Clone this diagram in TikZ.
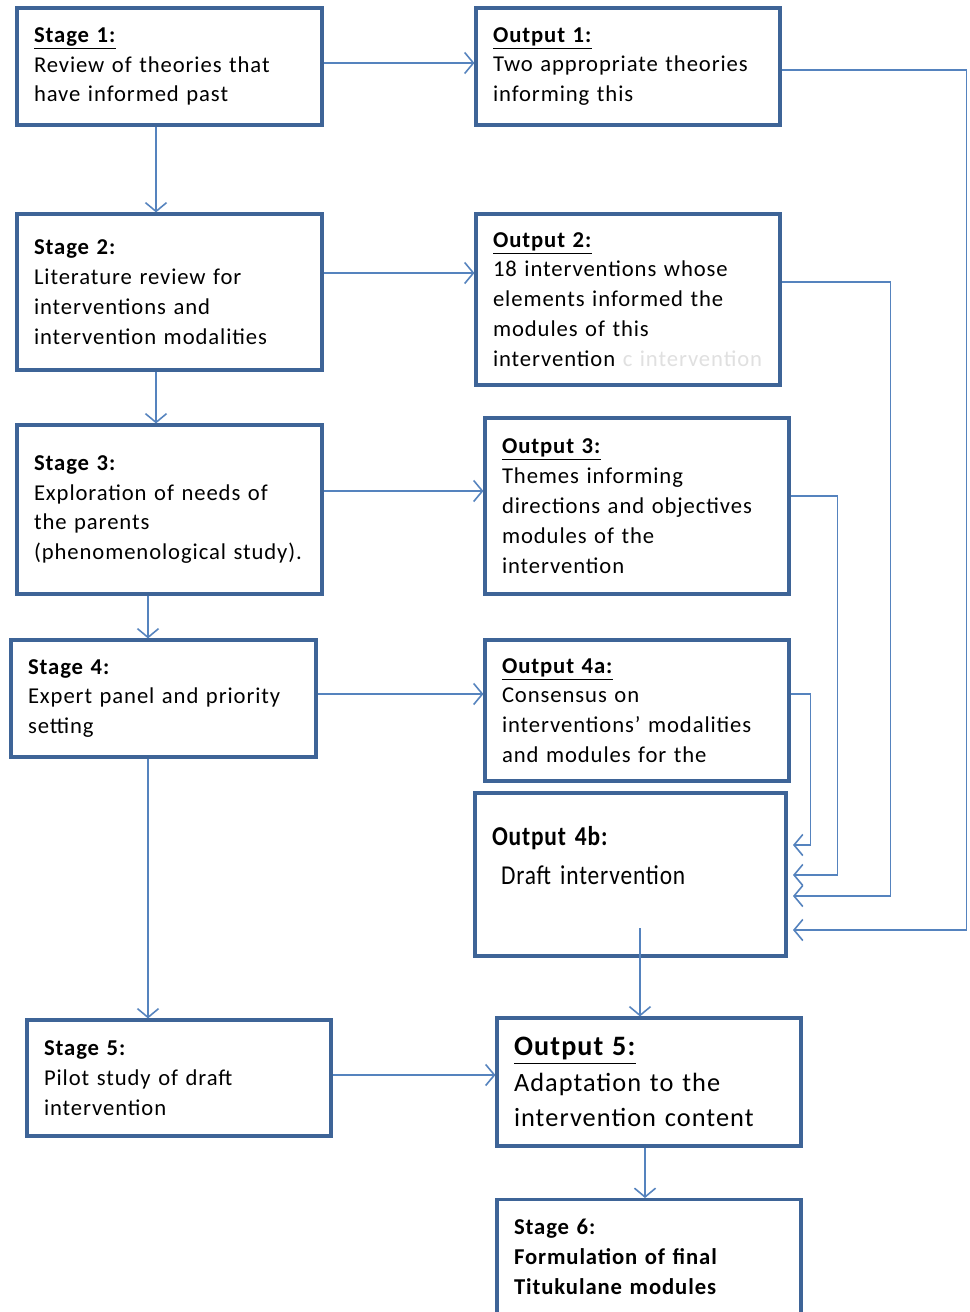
\documentclass[tikz,border=0pt]{standalone}
\usepackage{fontspec}
\setmainfont{Carlito}[LetterSpace=4, WordSpace=0.8]
\newfontfamily\narrowfont[FakeStretch=0.86, LetterSpace=3, WordSpace=0.8]{Carlito}
\usetikzlibrary{arrows.meta}
\definecolor{boxblue}{HTML}{3E6497}
\definecolor{linkblue}{HTML}{5583BE}
\definecolor{ghost}{gray}{0.88}
\tikzset{
  box/.style={draw=boxblue, line width=1.8pt, rectangle, align=left,
    inner xsep=0.34cm, font=\fontsize{12.9}{17}\selectfont},
  flow/.style={draw=linkblue, line width=0.9pt,
    -{Straight Barb[length=5pt,width=12pt]}},
  back/.style={flow, shorten >=3pt},
}
\begin{document}
\begin{tikzpicture}[x=0.02cm, y=-0.02cm]
\clip (0,0) rectangle (970,1312);
\fill[white] (0,0) rectangle (970,1312);

% stages (left column)
\node[box, text width=5.42cm, minimum height=2.34cm] (s1) at (169.5,66.5)
  {\underline{\textbf{Stage 1:}}\\ Review of theories that\\ have informed past};
\node[box, text width=5.42cm, minimum height=3.12cm] (s2) at (169.5,292)
  {\textbf{Stage 2:}\\ Literature review for\\ interventions and\\ intervention modalities};
\node[box, text width=5.42cm, minimum height=3.38cm] (s3) at (169.5,509.5)
  {\textbf{Stage 3:}\\ Exploration of needs of\\ the parents\\ (phenomenological study).};
\node[box, text width=5.42cm, minimum height=2.34cm] (s4) at (163.5,698.5)
  {\textbf{Stage 4:}\\ Expert panel and priority\\ setting};
\node[box, text width=5.40cm, minimum height=2.32cm] (s5) at (179,1078)
  {\textbf{Stage 5:}\\ Pilot study of draft\\ intervention};
\node[box, text width=5.40cm, minimum height=2.88cm, anchor=north] (s6) at (649,1198)
  {\textbf{Stage 6:}\\ \textbf{Formulation of final}\\ \textbf{Titukulane modules}\\ \mbox{}};

% outputs (right column)
\node[box, text width=5.40cm, minimum height=2.34cm] (o1) at (628,66.5)
  {\underline{\textbf{Output 1:}}\\ Two appropriate theories\\ informing this};
\node[box, text width=5.40cm, minimum height=3.42cm] (o2) at (628,299.5)
  {\underline{\textbf{Output 2:}}\\ 18 interventions whose\\ elements informed the\\ modules of this\\
   intervention \textcolor{ghost}{c intervention}};
\node[box, text width=5.40cm, minimum height=3.52cm] (o3) at (637,506)
  {\underline{\textbf{Output 3:}}\\ Themes informing\\ directions and objectives\\ modules of the\\ intervention};
\node[box, text width=5.40cm, minimum height=2.82cm] (o4a) at (637,710.5)
  {\underline{\textbf{Output 4a:}}\\ Consensus on\\ interventions’ modalities\\ and modules for the};
\node[box, line width=2pt, text width=5.54cm, minimum height=3.26cm,
  font=\narrowfont\fontsize{15.5}{22}\selectfont] (o4b) at (630.5,874.5)
  {\textbf{Output 4b:}\\ \ Draft intervention\\ \mbox{}};
\node[box, text width=5.40cm, minimum height=2.56cm,
  font=\fontsize{15}{20}\selectfont] (o5) at (649,1082)
  {\underline{\textbf{\fontsize{16}{20}\selectfont Output 5:}}\\ Adaptation to the\\ intervention content};

% down the stages
\draw[flow] (s1.south -| 156,0) -- (s2.north -| 156,0);
\draw[flow] (s2.south -| 156,0) -- (s3.north -| 156,0);
\draw[flow] (s3.south -| 148,0) -- (s4.north -| 148,0);
\draw[flow] (s4.south -| 148,0) -- (s5.north -| 148,0);

% stage -> output
\draw[flow] (s1.east |- 0,63) -- (o1.west |- 0,63);
\draw[flow] (s2.east |- 0,273) -- (o2.west |- 0,273);
\draw[flow] (s3.east |- 0,491) -- (o3.west |- 0,491);
\draw[flow] (s4.east |- 0,694) -- (o4a.west |- 0,694);
\draw[flow] (s5.east |- 0,1075) -- (o5.west |- 0,1075);

% outputs feeding the draft
\draw[back] (o1.east |- 0,70) -- ++(185,0) |- (o4b.east |- 0,930);
\draw[back] (o2.east |- 0,282) -- ++(109,0) |- (o4b.east |- 0,896);
\draw[back] (o3.east |- 0,496) -- ++(47,0) |- (o4b.east |- 0,875);
\draw[back] (o4a.east |- 0,694) -- ++(20,0) |- (o4b.east |- 0,845);

% draft -> output 5 -> stage 6
\coordinate (d4b) at (640,928);
\draw[flow] (d4b) -- (d4b |- o5.north);
\draw[flow] (o5.south -| 645,0) -- (s6.north -| 645,0);
\end{tikzpicture}
\end{document}
